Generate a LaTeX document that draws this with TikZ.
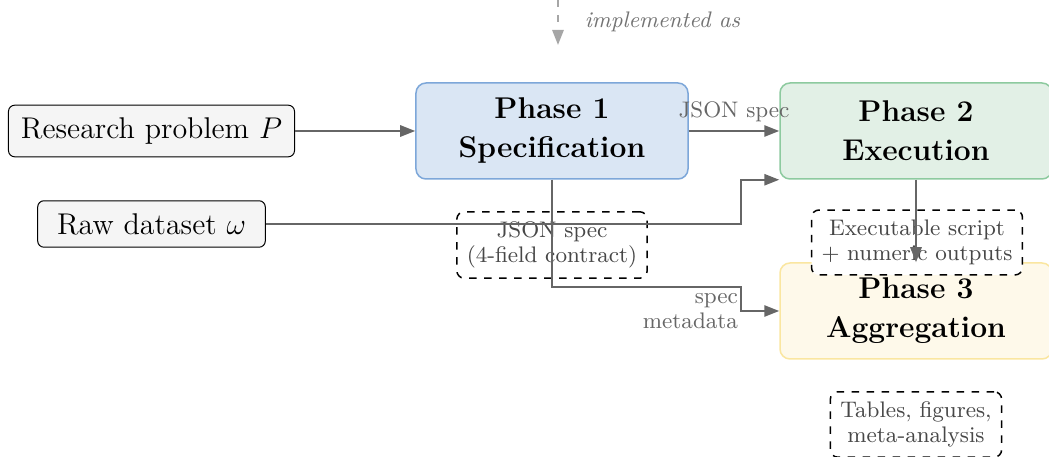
\documentclass[tikz,border=0pt]{standalone}
\usetikzlibrary{arrows.meta}
\definecolor{specblue}{HTML}{DAE6F4}
\definecolor{specedge}{HTML}{7DA7D9}
\definecolor{execgreen}{HTML}{E2F0E6}
\definecolor{execedge}{HTML}{8DCA9F}
\definecolor{aggyellow}{HTML}{FEF9EA}
\definecolor{aggedge}{HTML}{FAE6A0}
\begin{document}
\begin{tikzpicture}[x=0.4pt, y=-0.4pt,
	inbox/.style={draw, rounded corners=2.5pt, fill=black!4, font=\large, inner sep=5pt, minimum width=3.2cm},
	phase/.style={draw, line width=0.6pt, rounded corners=4pt, align=center, font=\fontsize{12}{15.6}\selectfont\bfseries, minimum width=108.8pt, minimum height=38.4pt},
	artefact/.style={draw, dashed, line width=0.6pt, rounded corners=3pt, fill=white, align=center, text=black!72, font=\fontsize{9}{10}\selectfont, inner sep=4pt},
	flow/.style={draw=black!60, line width=0.8pt, -{Triangle[length=6pt,width=4.5pt]}},
	edgelabel/.style={text=black!60, font=\fontsize{9}{10}\selectfont}]
		\useasboundingbox (0,0) rectangle (1049,457);
		
		\node[inbox] (problem) at (151.5,131) {Research problem $P$};
		\node[inbox] (dataset) at (151.5,224) {Raw dataset $\omega$};
		
		\node[phase, fill=specblue, draw=specedge] (spec) at (552,131) {Phase 1\\Specification};
		\node[phase, fill=execgreen, draw=execedge] (exec) at (916,131) {Phase 2\\Execution};
		\node[phase, fill=aggyellow, draw=aggedge] (agg) at (916,311) {Phase 3\\Aggregation};
		
		\node[artefact] (specout) at (552,245) {JSON spec\\(4-field contract)};
		\node[artefact] (execout) at (917,242.5) {Executable script\\+ numeric outputs};
		\node[artefact] (aggout) at (916,424.5) {Tables, figures,\\meta-analysis};
		
		% implemented as
		\coordinate (implfrom) at (558,0);
		\coordinate (implto) at (558,45);
		\draw[dashed, draw=black!35, line width=0.8pt, -{Triangle[length=6pt,width=4.5pt]}] (implfrom) -- (implto);
		\node[anchor=west, text=black!55, font=\small\itshape] (impllabel) at (576,22) {implemented as};
		
		\coordinate (databend) at (741,224);
		\coordinate (metabend) at (741,287);
		
		\draw[flow] (problem) -- (spec);
		\draw[flow] (spec) -- node[above, edgelabel] {JSON spec} (exec);
		\draw[flow] (dataset.east) -- (databend) |- (exec.south west);
		\draw[flow] (spec.south) |- (metabend) |- (agg.west);
		\node[edgelabel, anchor=north east, align=right, inner xsep=1pt, inner ysep=2.5pt] (metalabel) at (metabend) {spec\\metadata};
		\draw[flow] (exec) -- (agg);
		
	\end{tikzpicture}
\end{document}
